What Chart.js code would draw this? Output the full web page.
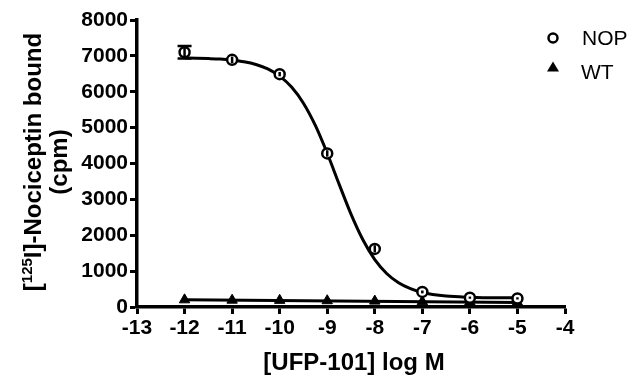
<!DOCTYPE html>
<html>
<head>
<meta charset="utf-8">
<script src="https://cdn.jsdelivr.net/npm/chart.js@4.4.1/dist/chart.umd.min.js"></script>
<style>
  html, body { margin: 0; padding: 0; background: #fff; }
  #wrap { width: 640px; height: 390px; }
</style>
</head>
<body>
<div id="wrap"><canvas id="bindingChart" width="640" height="390"></canvas></div>
<script>
// Concentrations (log M) where points were measured
const logDose = [-12, -11, -10, -9, -8, -7, -6, -5];

// NOP cells: mean bound cpm and error
const nopMean = [7100, 6890, 6490, 4280, 1620, 420, 260, 240];
const nopErr = [175, 90, 60, 90, 100, 40, 30, 30];

// WT cells: mean bound cpm
const wtMean = [200, 190, 185, 175, 165, 150, 140, 130];

// Fitted curves
const nopFitX = [-12, -11.75, -11.5, -11.25, -11, -10.75, -10.5, -10.25, -10, -9.75, -9.5, -9.25,
                 -9, -8.75, -8.5, -8.25, -8, -7.75, -7.5, -7.25, -7, -6.5, -6, -5.5, -5];
const nopFitY = [6940, 6935, 6925, 6910, 6880, 6835, 6760, 6635, 6435, 6130, 5680, 5060,
                 4285, 3425, 2590, 1875, 1320, 935, 675, 510, 405, 305, 270, 255, 255];
const wtFitX = [-12, -5];
const wtFitY = [205, 125];

// Axis ticks
const xTicks = [-13, -12, -11, -10, -9, -8, -7, -6, -5, -4];
const yTicks = [0, 1000, 2000, 3000, 4000, 5000, 6000, 7000, 8000];

const seriesNames = ['NOP', 'WT'];

function toPoints(xs, ys) {
    return xs.map((x, i) => ({ x: x, y: ys[i] }));
}

// Error bars for the NOP points, drawn on top of the markers
const errorBarPlugin = {
    id: 'errorBars',
    afterDatasetsDraw(chart) {
        const ctx = chart.ctx;
        const xs = chart.scales.x, ys = chart.scales.y;
        ctx.save();
        ctx.strokeStyle = '#000';
        ctx.lineWidth = 2.5;
        logDose.forEach((d, i) => {
            const px = xs.getPixelForValue(d);
            const top = ys.getPixelForValue(nopMean[i] + nopErr[i]);
            const bot = ys.getPixelForValue(nopMean[i] - nopErr[i]);
            const mid = ys.getPixelForValue(nopMean[i]);
            ctx.beginPath();
            ctx.moveTo(px, top);
            ctx.lineTo(px, bot);
            ctx.stroke();
            if (mid - top > 5) {
                ctx.beginPath();
                ctx.moveTo(px - 7, top); ctx.lineTo(px + 7, top);
                ctx.moveTo(px - 7, bot); ctx.lineTo(px + 7, bot);
                ctx.stroke();
            }
        });
        ctx.restore();
    }
};

// Axis titles and legend drawn by hand (superscript in the y title)
const labelsPlugin = {
    id: 'labels',
    afterDraw(chart) {
        const ctx = chart.ctx;
        const area = chart.chartArea;
        ctx.save();
        ctx.fillStyle = '#000';

        // x title
        ctx.font = 'bold 24px "Liberation Sans", Arial, sans-serif';
        ctx.textAlign = 'center';
        ctx.textBaseline = 'middle';
        ctx.fillText('[UFP-101] log M', (area.left + area.right) / 2 + 3, 363);

        // y title, two lines rotated
        const main = 'bold 24px "Liberation Sans", Arial, sans-serif';
        const sup = 'bold 15px "Liberation Sans", Arial, sans-serif';
        ctx.save();
        ctx.translate(33, 162);
        ctx.rotate(-Math.PI / 2);
        ctx.textAlign = 'left';
        ctx.textBaseline = 'alphabetic';
        ctx.font = main; const w1 = ctx.measureText('[').width;
        ctx.font = sup; const w2 = ctx.measureText('125').width;
        ctx.font = main; const w3 = ctx.measureText('I]-Nociceptin bound').width;
        let x0 = -(w1 + w2 + w3) / 2;
        const base = 8;
        ctx.font = main; ctx.fillText('[', x0, base);
        ctx.font = sup; ctx.fillText('125', x0 + w1, base - 9);
        ctx.font = main; ctx.fillText('I]-Nociceptin bound', x0 + w1 + w2, base);
        ctx.textAlign = 'center';
        ctx.fillText('(cpm)', 0, base + 26);
        ctx.restore();

        // legend
        ctx.font = '21px "Liberation Sans", Arial, sans-serif';
        ctx.textAlign = 'left';
        ctx.textBaseline = 'middle';
        ctx.lineWidth = 2.5;
        ctx.strokeStyle = '#000';
        ctx.beginPath();
        ctx.arc(553, 38, 4.5, 0, Math.PI * 2);
        ctx.fillStyle = '#fff';
        ctx.fill();
        ctx.stroke();
        ctx.fillStyle = '#000';
        ctx.fillText(seriesNames[0], 582, 39);
        ctx.beginPath();
        ctx.moveTo(553, 61.5);
        ctx.lineTo(559, 71.5);
        ctx.lineTo(547, 71.5);
        ctx.closePath();
        ctx.fill();
        ctx.fillText(seriesNames[1], 581, 73);
        ctx.restore();
    }
};

const tickFont = { family: '"Liberation Sans", Arial, sans-serif', size: 21, weight: 'bold' };

new Chart(document.getElementById('bindingChart'), {
    type: 'scatter',
    data: {
        datasets: [
            {
                label: 'NOP fit',
                data: toPoints(nopFitX, nopFitY),
                showLine: true,
                borderColor: '#000',
                borderWidth: 3,
                pointRadius: 0,
                cubicInterpolationMode: 'monotone',
                order: 4
            },
            {
                label: 'WT fit',
                data: toPoints(wtFitX, wtFitY),
                showLine: true,
                borderColor: '#000',
                borderWidth: 3,
                pointRadius: 0,
                order: 3
            },
            {
                label: 'WT',
                data: toPoints(logDose, wtMean),
                showLine: false,
                pointStyle: 'triangle',
                pointRadius: 6,
                backgroundColor: '#000',
                borderColor: '#000',
                borderWidth: 1,
                order: 2
            },
            {
                label: 'NOP',
                data: toPoints(logDose, nopMean),
                showLine: false,
                pointStyle: 'circle',
                pointRadius: 5,
                backgroundColor: '#fff',
                borderColor: '#000',
                borderWidth: 2.5,
                order: 1
            }
        ]
    },
    options: {
        responsive: false,
        animation: false,
        layout: { padding: { top: 20, right: 75, left: 0, bottom: 0 } },
        plugins: {
            legend: { display: false },
            tooltip: { enabled: false }
        },
        scales: {
            x: {
                type: 'linear',
                min: -13,
                max: -4,
                afterBuildTicks: axis => { axis.ticks = xTicks.map(v => ({ value: v })); },
                afterFit: axis => { axis.height = 83; },
                ticks: { color: '#000', font: tickFont, padding: 2, callback: v => String(v) },
                grid: { drawOnChartArea: false, tickLength: 7, tickWidth: 3, tickColor: '#000' },
                border: { color: '#000', width: 3.5 }
            },
            y: {
                min: 0,
                max: 8000,
                afterBuildTicks: axis => { axis.ticks = yTicks.map(v => ({ value: v })); },
                afterFit: axis => { axis.width = 137; },
                ticks: { color: '#000', font: tickFont, padding: 2, callback: v => String(v) },
                grid: { drawOnChartArea: false, tickLength: 7, tickWidth: 3, tickColor: '#000' },
                border: { color: '#000', width: 3.5 }
            }
        }
    },
    plugins: [errorBarPlugin, labelsPlugin]
});
</script>
</body>
</html>
